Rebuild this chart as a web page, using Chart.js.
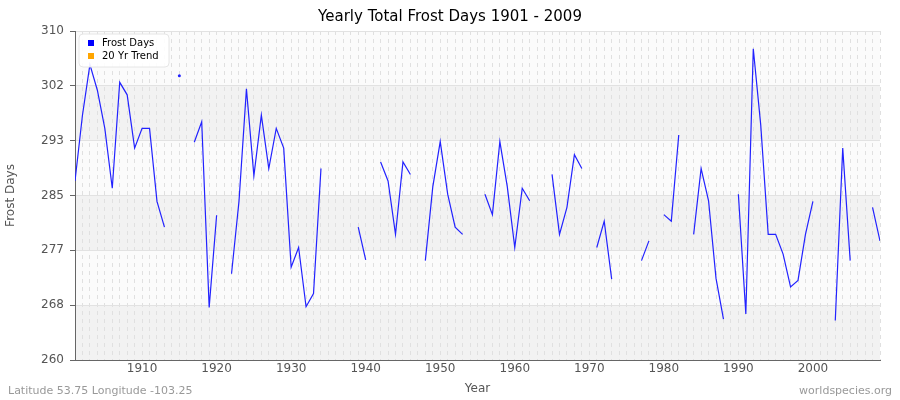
<!DOCTYPE html>
<html><head><meta charset="utf-8">
<script src="https://cdn.jsdelivr.net/npm/chart.js@4/dist/chart.umd.min.js"></script>
<style>html,body{margin:0;padding:0;background:#fff}#w{width:900px;height:400px}</style>
</head><body><div id="w"><canvas id="c"></canvas></div>
<script>
const years = [];
for (let y = 1901; y <= 2009; y++) years.push(y);
const frostDays = [
287.2,297.2,304.9,301.0,295.2,286.1,302.2,300.3,292.2,295.2,
295.2,284.1,280.2,null,303.2,null,293.1,296.2,268.0,282.0,
null,273.1,284.1,301.2,288.0,297.2,289.1,295.2,292.2,274.1,
277.1,268.1,270.1,289.1,null,null,null,null,280.2,275.2,
null,290.1,287.2,279.1,290.1,288.2,null,275.1,286.3,293.2,
285.2,280.2,279.1,null,null,285.2,282.1,293.2,286.3,277.1,
286.1,284.2,null,null,288.2,279.1,283.2,291.2,289.1,null,
277.1,281.1,272.3,null,null,null,275.1,278.1,null,282.1,
281.1,294.2,null,279.1,289.1,284.2,272.4,266.2,null,285.2,
267.0,307.3,295.7,279.1,279.1,276.1,271.1,272.1,279.1,284.1,
null,null,266.0,292.2,275.1,null,null,283.2,278.1];
const trend = [];
const yTicks = [260, 268.333, 276.667, 285, 293.333, 301.667, 310];

const pts = years.map((y,i)=>({x:y,y:frostDays[i]}));
const bgPlugin = {
  id:'bg',
  beforeDraw(chart){
    const {ctx, chartArea:a, scales:{y}} = chart;
    ctx.save();
    ctx.fillStyle='#fbfbfb';
    ctx.fillRect(a.left,a.top,a.right-a.left,a.bottom-a.top);
    ctx.fillStyle='#f2f2f2';
    for (let i=0;i<yTicks.length-1;i+=2){
      const t=y.getPixelForValue(yTicks[i+1]), b=y.getPixelForValue(yTicks[i]);
      ctx.fillRect(a.left,t,a.right-a.left,b-t);
    }
    ctx.restore();
  },
  afterDraw(chart){
    const {ctx, chartArea:a} = chart;
    ctx.save();
    ctx.fillStyle='#000';
    ctx.font='15px "DejaVu Sans"';
    ctx.textAlign='center';ctx.textBaseline='middle';
    ctx.fillText('Yearly Total Frost Days 1901 - 2009',450,17);
    ctx.fillStyle='#999';ctx.font='11px "DejaVu Sans"';
    ctx.textAlign='left';ctx.fillText('Latitude 53.75 Longitude -103.25',8,391);
    ctx.textAlign='right';ctx.fillText('worldspecies.org',892,391);
    // legend
    ctx.fillStyle='rgba(255,255,255,0.9)';
    ctx.strokeStyle='#e6e6e6';
    ctx.beginPath();ctx.roundRect(a.left+4,a.top+3,90,33,4);ctx.fill();ctx.stroke();
    ctx.font='10px "DejaVu Sans"';ctx.textAlign='left';ctx.fillStyle='#000';
    ctx.fillStyle='#0000ff';ctx.fillRect(a.left+13,a.top+9,6,6);
    ctx.fillStyle='#ffa500';ctx.fillRect(a.left+13,a.top+22,6,6);
    ctx.fillStyle='#000';
    ctx.fillText('Frost Days',a.left+27,a.top+12);
    ctx.fillText('20 Yr Trend',a.left+27,a.top+25);
    ctx.restore();
  }
};
new Chart(document.getElementById('c'),{
  type:'line',
  data:{datasets:[
    {label:'Frost Days',data:pts,borderColor:'#2222ff',borderWidth:1.2,spanGaps:false,
     pointRadius:(c)=>{const i=c.dataIndex;const v=frostDays;return (v[i]!=null&&v[i-1]==null&&v[i+1]==null)?1.5:0;},
     pointBackgroundColor:'#2222ff',pointBorderWidth:0,tension:0},
    {label:'20 Yr Trend',data:trend,borderColor:'#ffa500',pointRadius:0}
  ]},
  plugins:[bgPlugin],
  options:{
    responsive:true,maintainAspectRatio:false,animation:false,
    layout:{padding:{left:0,right:20,top:31,bottom:0}},
    plugins:{legend:{display:false},tooltip:{enabled:false}},
    scales:{
      x:{type:'linear',min:1901,max:2009,
        afterBuildTicks(s){s.ticks=years.map(v=>({value:v}));},
        afterFit(s){s.height=40;},
        ticks:{autoSkip:false,maxRotation:0,padding:2,color:'#555',font:{family:'DejaVu Sans',size:12},
          callback:(v)=>v%10===0?String(v):''},
        grid:{color:'#e0e0e0',tickLength:4,drawTicks:false},
        border:{display:true,color:'#666',dash:[4,4]},
        title:{display:true,text:'Year',color:'#555',font:{family:'DejaVu Sans',size:12},padding:{top:2}}
      },
      y:{min:260,max:310,
        afterBuildTicks(s){s.ticks=yTicks.map(v=>({value:v}));},
        afterFit(s){s.width=75;},
        ticks:{color:'#555',font:{family:'DejaVu Sans',size:12},padding:6,callback:(v)=>String(Math.round(v))},
        grid:{color:'#e2e2e2',drawTicks:true,tickLength:5,tickColor:'#666'},
        border:{color:'#666'},
        title:{display:true,text:'Frost Days',color:'#555',font:{family:'DejaVu Sans',size:12}}
      }
    }
  }
});
</script></body></html>
